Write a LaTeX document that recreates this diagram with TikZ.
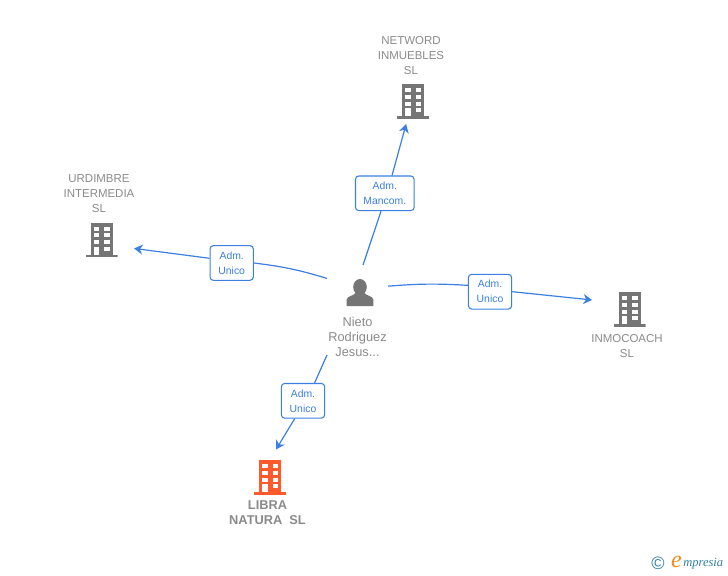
\documentclass[tikz,border=0pt]{standalone}
\usepackage{fontspec}
\setmainfont{Liberation Sans}
\newfontfamily\logofont{Liberation Serif}
\usetikzlibrary{arrows.meta}
\definecolor{linkblue}{HTML}{3B80E0}
\definecolor{icongray}{HTML}{757575}
\definecolor{textgray}{HTML}{8A8A8A}
\definecolor{mainorange}{HTML}{FF5A2B}
\definecolor{logoteal}{HTML}{2F7F9F}
\definecolor{logoorange}{HTML}{F28A1E}
% office block, drawn around the middle of its node
\newcommand{\officeicon}[1]{%
    \begin{scope}[shift={(path picture bounding box.center)}]
        \fill[#1] (-11,-17) rectangle (11,15);
        \fill[#1] (-16,15) rectangle (16,17.5);
        \foreach \rowy in {-13,-6.2,0.6}{
            \fill[white] (-8,\rowy) rectangle (-2.5,\rowy+4);
            \fill[white] (2.5,\rowy) rectangle (8,\rowy+4);
        }
        \fill[white] (-8,7.4) rectangle (-2.5,15);
        \fill[white] (2.5,7.4) rectangle (8,11.4);
    \end{scope}}
\newcommand{\personicon}{%
    \begin{scope}[shift={(path picture bounding box.center)}]
        \fill[icongray] (0,-5.5) ellipse [x radius=6.8, y radius=8];
        \fill[icongray] (-13.3,13.5) -- (-13.3,7) .. controls (-13.3,3.5) and (-6,3.5) .. (-4,0)
            -- (4,0) .. controls (6,3.5) and (13.3,3.5) .. (13.3,7) -- (13.3,13.5) -- cycle;
    \end{scope}}
\begin{document}
\begin{tikzpicture}[
        x=0.75pt, y=-0.75pt,
        office/.style={minimum width=24pt, minimum height=26.25pt, inner sep=0pt, outer sep=0pt,
            path picture={\officeicon{#1}}},
        person/.style={minimum width=24pt, minimum height=24pt, inner sep=0pt,
            path picture={\personicon}},
        hub/.style={minimum width=45.75pt, minimum height=67.5pt, inner sep=0pt, outer sep=0pt},
        nametext/.style={align=center, text=textgray, font=\fontsize{8.6}{11.25}\selectfont},
        mainname/.style={nametext, font=\fontsize{9.6}{11.25}\selectfont\bfseries},
        role/.style={draw=linkblue, fill=white, rounded corners=2.5pt, line width=0.8pt, align=center,
            text=linkblue, font=\fontsize{7.8}{11.25}\selectfont, inner sep=0pt,
            minimum width=32.5pt, minimum height=26pt},
        link/.style={draw=linkblue, line width=0.9pt},
        linkend/.style={link, -{Stealth[length=6.5pt, width=7.5pt]}}
    ]
    \useasboundingbox (0,0) rectangle (728,575);

    % Central person
    \node[hub] (nieto) at (357.5,310) {};
    \node[person] (nietoicon) at (360,292.5) {};
    \node[nametext, font=\fontsize{9.6}{11.25}\selectfont] (nietoname) at (357.5,336.5) {Nieto\\Rodriguez\\Jesus...};

    % Companies
    \node[office=icongray] (netword) at (413,101) {};
    \node[nametext] (networdname) at (411,56) {NETWORD\\INMUEBLES\\SL};
    \node[office=icongray] (urdimbre) at (101.5,239.5) {};
    \node[nametext] (urdimbrename) at (99,194) {URDIMBRE\\INTERMEDIA\\SL};
    \node[office=icongray] (inmocoach) at (629.5,309) {};
    \node[nametext] (inmocoachname) at (627,346.5) {INMOCOACH\\SL};
    \node[office=mainorange] (libra) at (270,477) {};
    \node[mainname] (libraname) at (267.5,513) {LIBRA\\NATURA\ \ SL};

    % Roles
    \node[role, minimum width=44pt] (rolenetword) at (384.8,193.3) {Adm.\\Mancom.};
    \node[role] (roleurdimbre) at (231.7,263) {Adm.\\Unico};
    \node[role] (roleinmocoach) at (490,291.7) {Adm.\\Unico};
    \node[role] (rolelibra) at (303,400.8) {Adm.\\Unico};

    % Links through the roles
    \draw[link] (nieto.83) -- (rolenetword.258);
    \draw[linkend, shorten >=4.3pt] (rolenetword.68) -- (netword.253);

    \draw[link] (nieto.134) to[bend right=5] (roleurdimbre.east);
    \draw[linkend, shorten >=12.5pt] (roleurdimbre.168) -- (urdimbre.-23);

    \draw[link] (nieto.38) to[bend left=4] (roleinmocoach.164);
    \draw[linkend, shorten >=16.2pt] (roleinmocoach.east) -- (inmocoach.157);

    \draw[link] (nieto.south west) -- (rolelibra.57);
    \draw[linkend, shorten >=8.8pt] (rolelibra.245) -- (libra.north);

    % Logo
    \node[text=logoteal, font=\fontsize{13.5}{13.5}\selectfont, inner sep=0pt] (logomark) at (658,563) {©};
    \node[text=logoorange, font=\logofont\itshape\fontsize{18}{18}\selectfont, inner sep=0pt] (logoe) at (676.5,562) {e};
    \node[text=logoteal, font=\logofont\itshape\fontsize{9.4}{9.4}\selectfont, inner sep=0pt, anchor=west] (logotext) at (683,564) {mpresia};
\end{tikzpicture}
\end{document}
